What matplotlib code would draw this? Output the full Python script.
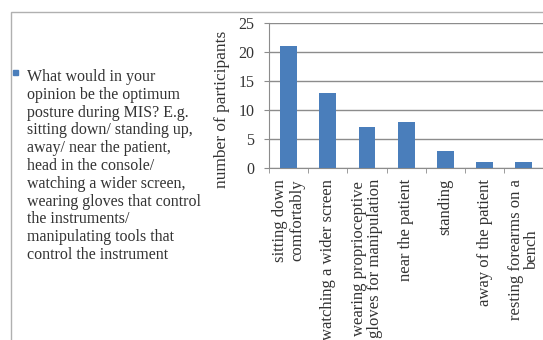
import matplotlib.pyplot as plt
from matplotlib.patches import Rectangle
import numpy as np

# answers to the posture question and how many participants picked each
categories = ["sitting down\ncomfortably",
              "watching a wider screen",
              "wearing proprioceptive\ngloves for manipulation",
              "near the patient",
              "standing",
              "away of the patient",
              "resting forearms on a\nbench"]
participants = [21, 13, 7, 8, 3, 1, 1]
y_ticks = [0, 5, 10, 15, 20, 25]
question = ("What would in your\nopinion be the optimum\nposture during MIS? E.g.\n"
            "sitting down/ standing up,\naway/ near the patient,\nhead in the console/\n"
            "watching a wider screen,\nwearing gloves that control\nthe instruments/\n"
            "manipulating tools that\ncontrol the instrument")

W, H = 543, 340
bar_color = '#4a7ebb'
grid_color = '#8c8c8c'
text_color = '#333333'
plt.rcParams['font.family'] = ['Liberation Serif', 'DejaVu Serif']

fig = plt.figure(figsize=(W / 100, H / 100), dpi=100)

# chart frame (only top and left edges fall inside the image)
fig.patches.append(Rectangle((11 / W, -0.1), 1.2, (H - 12) / H + 0.1,
                             transform=fig.transFigure, fill=False,
                             edgecolor='#b0b0b0', linewidth=1.0))

left, top, bottom = 269, 23, 168
width = 7 * 39.2
ax = fig.add_axes([left / W, 1 - bottom / H, width / W, (bottom - top) / H])

ind = np.arange(len(participants))
ax.bar(ind, participants, 0.43, color=bar_color, zorder=3)

ax.set_xlim(-0.5, len(participants) - 0.5)
ax.set_ylim(0, 25)
ax.set_yticks(y_ticks)
ax.set_yticklabels([str(v) for v in y_ticks], fontsize=11.5, color=text_color)
ax.yaxis.grid(True, color=grid_color, linewidth=1.0, zorder=0)
ax.tick_params(axis='y', length=3.6, color=grid_color, pad=7)

# category ticks sit between the bars
ax.set_xticks(ind)
ax.set_xticklabels([])
ax.tick_params(axis='x', which='major', length=0)
ax.set_xticks(np.arange(-0.5, len(participants), 1), minor=True)
ax.tick_params(axis='x', which='minor', length=3.6, color=grid_color)

for s in ['top', 'right']:
    ax.spines[s].set_visible(False)
for s in ['left', 'bottom']:
    ax.spines[s].set_color(grid_color)

for i, label in enumerate(categories):
    ax.annotate(label, xy=(i, 0), xycoords='data', xytext=(0, -11),
                textcoords='offset pixels', rotation=90, ha='center', va='top',
                multialignment='center', fontsize=12, color=text_color,
                linespacing=1.05, annotation_clip=False)

fig.text(222 / W, 1 - 109 / H, "number of participants", rotation=90,
         ha='center', va='center', fontsize=12.5, color=text_color)

# legend entry on the left
fig.patches.append(Rectangle((13 / W, 1 - 75 / H), 5 / W, 5 / H,
                             transform=fig.transFigure, color=bar_color))
fig.text(27 / W, 1 - 69 / H, question, ha='left', va='top', fontsize=11.5,
         color=text_color, linespacing=1.15)

fig.savefig('out.png', dpi=100)
